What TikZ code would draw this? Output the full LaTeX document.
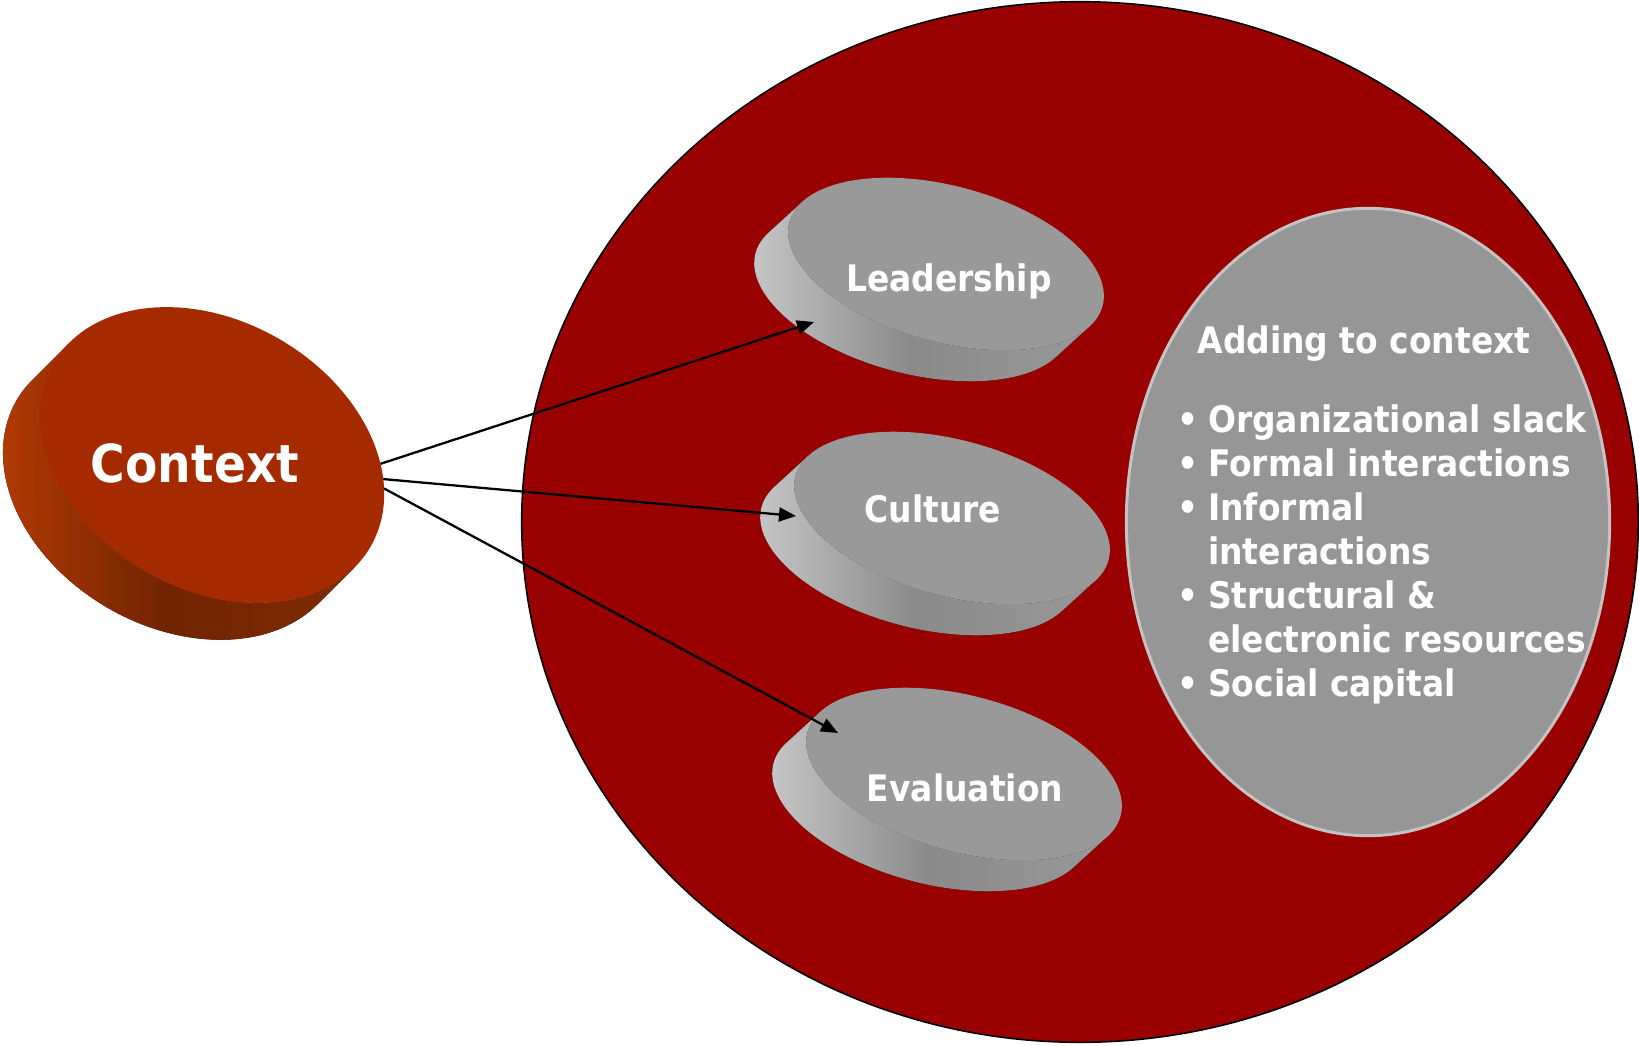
\documentclass[tikz,border=0pt]{standalone}
\usepackage{fontspec}
\setmainfont{DejaVu Sans Condensed}[BoldFont={DejaVu Sans Condensed Bold}]
\usetikzlibrary{shapes.geometric,arrows.meta}

\definecolor{groupred}{RGB}{153,0,0}
\definecolor{ctxface}{RGB}{166,42,0}
\definecolor{puckgray}{RGB}{153,153,153}
\definecolor{listgray}{RGB}{150,150,150}
\definecolor{listrim}{RGB}{195,195,195}

\tikzset{
  face/.style={ellipse, inner sep=0pt, outer sep=0pt},
  ctx face/.style={face, fill=ctxface, minimum width=3.66cm, minimum height=2.68cm, rotate=-30},
  gray face/.style={face, fill=puckgray, minimum width=3.24cm, minimum height=1.56cm, rotate=-15},
  ctx side/.style={left color={rgb,255:red,186;green,60;blue,4}, right color={rgb,255:red,128;green,44;blue,0}, middle color={rgb,255:red,112;green,36;blue,0}},
  gray side/.style={left color={rgb,255:red,205;green,205;blue,205}, right color={rgb,255:red,152;green,152;blue,152}, middle color={rgb,255:red,138;green,138;blue,138}},
  puck text/.style={text=white, inner sep=0pt, anchor=base, font=\bfseries\fontsize{10.4pt}{12.5pt}\selectfont},
  link/.style={-{Triangle[length=0.17cm, width=0.14cm]}, line width=0.65pt},
}

\begin{document}
\begin{tikzpicture}[x=0.01cm, y=-0.01cm]
  \useasboundingbox (0,0) rectangle (1639,1045);

  % the big group and the list
  \node[ellipse, draw=black, line width=0.45pt, fill=groupred, minimum width=11.16cm, minimum height=10.40cm] (group) at (1080,522) {};
  \node[ellipse, draw=listrim, line width=0.85pt, fill=listgray, minimum width=4.83cm, minimum height=6.27cm] (adding) at (1368,522) {};

  % context puck
  \fill[ctx side, shift={(212,455)}, rotate=-30]
    ({183*cos(191.1)},{134*sin(191.1)}) -- ({183*cos(191.1)-13.5},{134*sin(191.1)+50.5})
    arc[start angle=191.1, end angle=11.1, x radius=183, y radius=134]
    -- ({183*cos(11.1)},{134*sin(11.1)})
    arc[start angle=11.1, end angle=191.1, x radius=183, y radius=134] -- cycle;
  \node[ctx face] (ctx) at (212,455) {};

  % gray pucks
  \foreach \nm/\x/\y in {lead/946/264, cult/952/518, eval/964/774}{
    \fill[gray side, shift={(\x,\y)}, rotate=-15]
      ({162*cos(197.1)},{78*sin(197.1)}) -- ({162*cos(197.1)-24.8},{78*sin(197.1)+38.8})
      arc[start angle=197.1, end angle=17.1, x radius=162, y radius=78]
      -- ({162*cos(17.1)},{78*sin(17.1)})
      arc[start angle=17.1, end angle=197.1, x radius=162, y radius=78] -- cycle;
    \node[gray face] (\nm) at (\x,\y) {};
  }

  \node[puck text, font=\bfseries\fontsize{14.9pt}{17pt}\selectfont] (ctx-text) at (195,482) {Context};
  \node[puck text] (lead-text) at (949,291) {Leadership};
  \node[puck text] (cult-text) at (933,522) {Culture};
  \node[puck text] (eval-text) at (965,801) {Evaluation};

  \node[puck text, anchor=base west, align=left] (adding-text) at (1177,353) {%
    \begin{tabular}[t]{@{}l@{\hspace{0.095cm}}l@{}}
      \multicolumn{2}{@{}l@{}}{\hspace{0.2cm}Adding to context}\\[0.355cm]
      \textbullet & Organizational slack\\
      \textbullet & Formal interactions\\
      \textbullet & Informal\\
                  & interactions\\
      \textbullet & Structural \&\\
                  & electronic resources\\
      \textbullet & Social capital
    \end{tabular}};

  % links
  \coordinate (lead-tip) at (814,322);
  \coordinate (cult-tip) at (796,516);
  \coordinate (eval-tip) at (838,733);
  \draw[link] (ctx.27.6) -- (lead-tip);
  \draw[link] (ctx.22.7) -- (cult-tip);
  \draw[link] (ctx.19.4) -- (eval-tip);
\end{tikzpicture}
\end{document}
